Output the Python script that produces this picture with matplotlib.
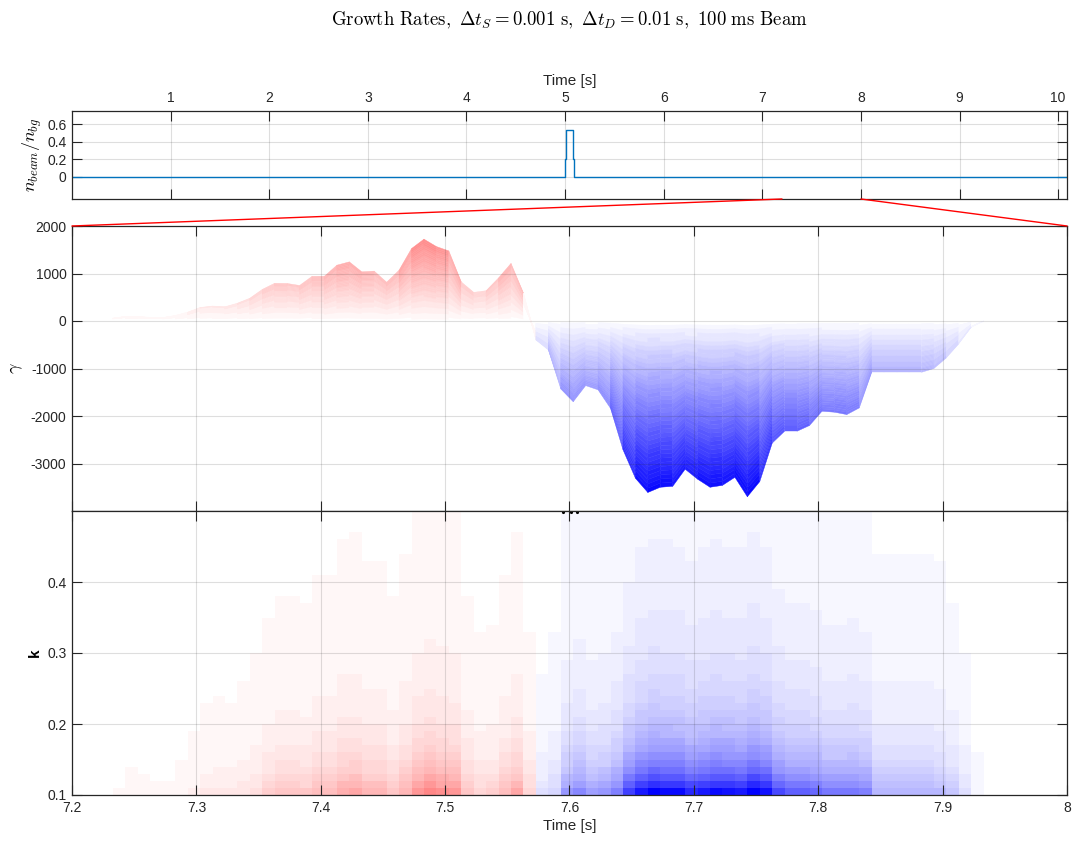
import numpy as np
import matplotlib
matplotlib.use("Agg")
import matplotlib.pyplot as plt
from matplotlib.colors import ListedColormap, Normalize
from matplotlib.collections import PolyCollection
from matplotlib.patches import ConnectionPatch
from matplotlib.ticker import FormatStrFormatter

plt.rcParams['font.family'] = ['Liberation Sans', 'DejaVu Sans']
plt.rcParams['mathtext.fontset'] = 'cm'
plt.rcParams['axes.unicode_minus'] = False

# beam density ratio (top panel)
beam_t = [0.0, 5.00, 5.01, 5.08, 5.09, 10.09]
beam_n = [0.0, 0.21, 0.53, 0.21, 0.0, 0.0]

# growth rate at k = 0.1, sampled every 10 ms starting at 7.203 s
t0, dt = 7.203, 0.01
gamma = [0, 0, 0, 60, 97, 93, 77, 72, 115, 185,
         285, 315, 300, 375, 480, 665, 795, 790, 748, 940,
         943, 1175, 1245, 1035, 1050, 816, 1071, 1525, 1723, 1567,
         1475, 823, 603, 638, 908, 1213, 589, -400, -610, -1430,
         -1700, -1360, -1450, -1840, -2710, -3310, -3610, -3500, -3480, -3120,
         -3330, -3500, -3460, -3290, -3700, -3380, -2570, -2320, -2320, -2200,
         -1900, -1920, -1970, -1830, -1080, -1080, -1080, -1080, -1080, -1000,
         -776, -480, -130, 0, 0, 0, 0, 0, 0, 0]

# wavenumber grid of the spectrum and the relative fall-off of gamma with k
k_edges = np.round(np.arange(0.10, 0.505, 0.01), 2)
k_decay = [1.000, 0.826, 0.694, 0.592, 0.510, 0.444, 0.391, 0.346, 0.309, 0.277,
           0.250, 0.227, 0.207, 0.189, 0.174, 0.160, 0.148, 0.137, 0.128, 0.119,
           0.111, 0.104, 0.098, 0.092, 0.087, 0.082, 0.077, 0.073, 0.069, 0.066,
           0.063, 0.060, 0.057, 0.054, 0.052, 0.049, 0.047, 0.045, 0.043, 0.042]

dot_t = [7.595, 7.601, 7.606]

t = t0 + dt*np.arange(len(gamma))
gamma = np.array(gamma, dtype=float)
gmax = np.abs(gamma).max()

# quantized blue-white-red map, white in the middle level
nlev = 65
cl = []
for i in range(nlev):
    f = (i - 32)/32.0
    if f < 0:
        cl.append((1+f, 1+f, 1.0))
    else:
        cl.append((1.0, 1-f, 1-f))
cmap = ListedColormap(cl)
norm = Normalize(-gmax, gmax)

W, H = 1078, 850
fig = plt.figure(figsize=(W/100, H/100), dpi=100)
L, R = 72/W, 1067/W
ax1 = fig.add_axes([L, 1-199/H, R-L, 88/H])
ax2 = fig.add_axes([L, 1-511/H, R-L, 285/H])
ax3 = fig.add_axes([L, 1-795/H, R-L, 284/H])

spc = '#262626'
for ax in (ax1, ax2, ax3):
    ax.grid(True, color=(0.15, 0.15, 0.15), alpha=0.15, lw=0.8)
    ax.tick_params(direction='in', length=7, width=0.8, top=True, right=True,
                   labelsize=10, colors=spc, pad=4)
    for s in ax.spines.values():
        s.set_color(spc)
        s.set_linewidth(0.9)

# top panel
ax1.plot(beam_t, beam_n, drawstyle='steps-post', color='#0072BD', lw=1)
ax1.set_xlim(0, 10.09)
ax1.set_ylim(-0.25, 0.75)
ax1.set_xticks(range(1, 11))
ax1.set_yticks([0, 0.2, 0.4, 0.6])
ax1.yaxis.set_major_formatter(FormatStrFormatter('%g'))
ax1.tick_params(labeltop=True, labelbottom=False)
ax1.xaxis.set_label_position('top')
ax1.set_xlabel('Time [s]', fontsize=11, color=spc, labelpad=5)
ax1.set_ylabel(r'$n_{beam}/n_{bg}$', fontsize=13, labelpad=2)

# middle panel: layered fill, colour follows the value
nlay = 40
polys, cols = [], []
for i in range(len(t)-1):
    g0, g1 = gamma[i], gamma[i+1]
    if g0 == 0 and g1 == 0:
        continue
    gm = 0.5*(g0 + g1)
    for j in range(nlay):
        a, b = j/nlay, (j+1)/nlay
        polys.append([(t[i], a*g0), (t[i+1], a*g1), (t[i+1], b*g1), (t[i], b*g0)])
        cols.append(cmap(norm(gm*(j+0.5)/nlay)))
pc = PolyCollection(polys, facecolors=cols, edgecolors=cols, linewidths=0.3)
ax2.add_collection(pc)
ax2.set_xlim(7.2, 8.0)
ax2.set_ylim(-4000, 2000)
ax2.set_yticks([-3000, -2000, -1000, 0, 1000, 2000])
ax2.set_xticks(np.arange(7.2, 8.01, 0.1))
ax2.tick_params(labelbottom=False)
ax2.set_ylabel(r'$\gamma$', fontsize=13)

# bottom panel: growth-rate spectrum
C = np.outer(k_decay, gamma[:-1])
ax3.pcolormesh(t, k_edges, C, cmap=cmap, norm=norm, shading='flat')
ax3.plot(dot_t, [0.498]*3, 'k.', ms=2.5)
ax3.set_xlim(7.2, 8.0)
ax3.set_ylim(0.1, 0.5)
ax3.set_xticks(np.arange(7.2, 8.01, 0.1))
ax3.set_yticks([0.1, 0.2, 0.3, 0.4])
ax3.xaxis.set_major_formatter(FormatStrFormatter('%g'))
ax3.yaxis.set_major_formatter(FormatStrFormatter('%g'))
ax3.set_xlabel('Time [s]', fontsize=11, color=spc, labelpad=3)
ax3.set_ylabel('k', fontsize=11, fontweight='bold')

# zoom lines from the top panel down to the middle panel
for xa, xf in ((7.2, 0), (8.0, 1)):
    cp = ConnectionPatch(xyA=(xa, -0.25), coordsA=ax1.transData,
                         xyB=(xf, 1), coordsB=ax2.transAxes,
                         color='red', lw=1)
    fig.add_artist(cp)

fig.text((L+R)/2, 1-20/H,
         r'$\mathrm{Growth\ Rates,}\ \Delta t_S = 0.001\ \mathrm{s,}\ '
         r'\Delta t_D = 0.01\ \mathrm{s,}\ 100\ \mathrm{ms\ Beam}$',
         ha='center', va='center', fontsize=13.5)

fig.savefig('out.png', dpi=100)
